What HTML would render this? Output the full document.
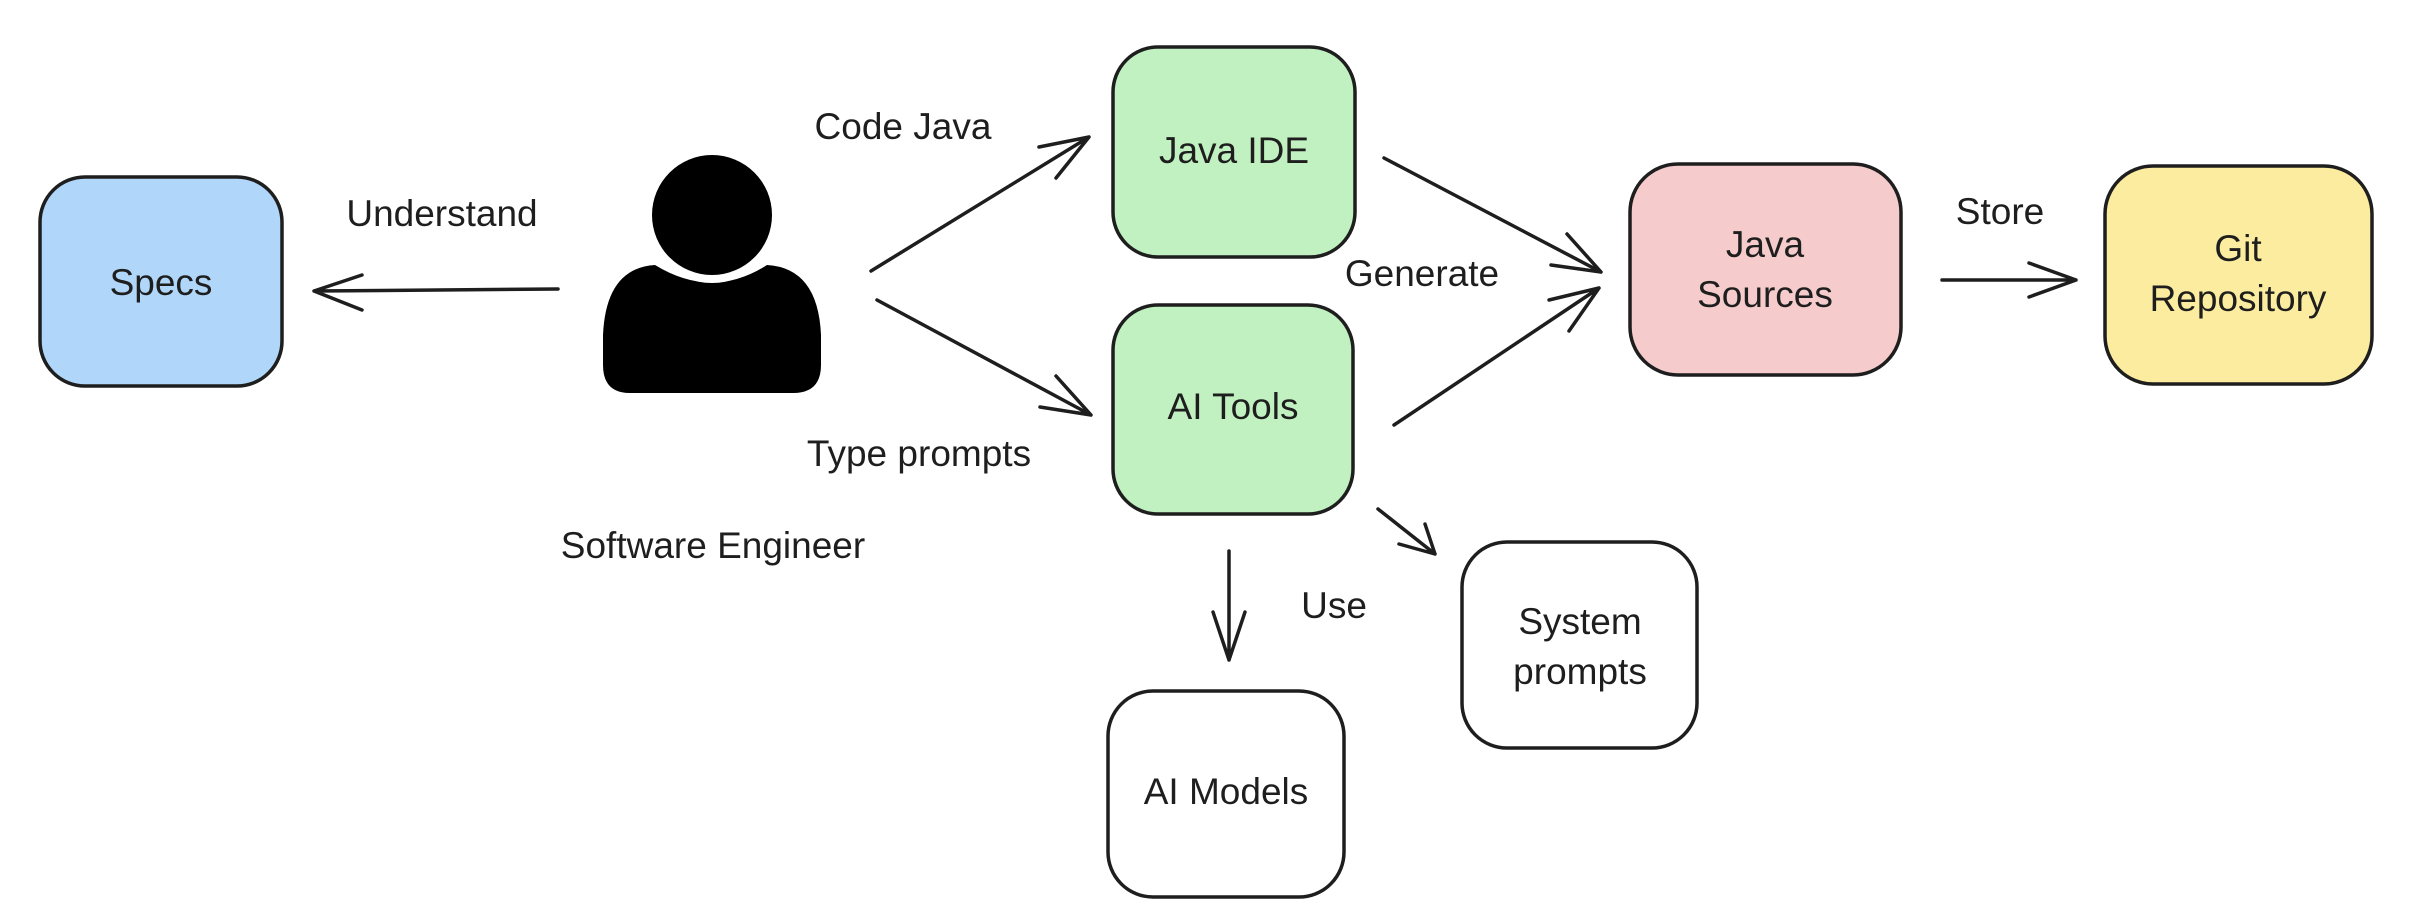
<!DOCTYPE html>
<html><head><meta charset="utf-8"><style>
html,body{margin:0;padding:0;background:#fff;}
svg{display:block;}
text{font-family:"Liberation Sans",sans-serif;font-size:37px;fill:#1e1e1e;}
</style></head><body>
<svg width="2414" height="922" viewBox="0 0 2414 922" xmlns="http://www.w3.org/2000/svg">
<g stroke="#1e1e1e" stroke-width="3.5" stroke-linecap="round" stroke-linejoin="round">
<rect x="40" y="177" width="242" height="209" rx="45" fill="#b0d6fa"/>
<rect x="1113" y="47" width="242" height="210" rx="45" fill="#c1f1c1"/>
<rect x="1113" y="305" width="240" height="209" rx="45" fill="#c1f1c1"/>
<rect x="1108" y="691" width="236" height="206" rx="45" fill="#fff"/>
<rect x="1462" y="542" width="235" height="206" rx="45" fill="#fff"/>
<rect x="1630" y="164" width="271" height="211" rx="48" fill="#f5cbcb"/>
<rect x="2105" y="166" width="267" height="218" rx="48" fill="#fcec9f"/>
<g fill="none">
<path d="M558 289 L314 291 M362 275 L314 291 L362 310"/>
<path d="M871 271 L1089 137 M1039 147 L1089 137 L1056 178"/>
<path d="M877 300 L1091 415 M1040 407 L1091 415 L1056 376"/>
<path d="M1384 158 L1601 272 M1567 234 L1601 272 L1551 265"/>
<path d="M1394 425 L1599 288 M1549 300 L1599 288 L1569 331"/>
<path d="M1942 280 L2076 280 M2029 263 L2076 280 L2029 297"/>
<path d="M1378 509 L1435 554 M1399 544 L1435 554 L1425 524"/>
<path d="M1229 551 L1229 660 M1213 612 L1229 660 L1245 612"/>
</g>
</g>
<path d="M630 393 Q603 393 603 365 L603 335 Q606 268 655 265 Q712 300 767 265 Q818 268 821 335 L821 365 Q821 393 793 393 Z" fill="#000"/>
<circle cx="712" cy="215" r="68" fill="#fff"/>
<circle cx="712" cy="215" r="60" fill="#000"/>
<g text-anchor="middle">
<text x="161" y="295">Specs</text>
<text x="442" y="226">Understand</text>
<text x="903" y="139">Code Java</text>
<text x="919" y="466">Type prompts</text>
<text x="713" y="558">Software Engineer</text>
<text x="1234" y="163">Java IDE</text>
<text x="1233" y="419">AI Tools</text>
<text x="1226" y="804">AI Models</text>
<text x="1580" y="634">System</text>
<text x="1580" y="684">prompts</text>
<text x="1422" y="286">Generate</text>
<text x="1765" y="257">Java</text>
<text x="1765" y="307">Sources</text>
<text x="2000" y="224">Store</text>
<text x="2238" y="261">Git</text>
<text x="2238" y="311">Repository</text>
<text x="1334" y="618">Use</text>
</g>
</svg>
</body></html>
